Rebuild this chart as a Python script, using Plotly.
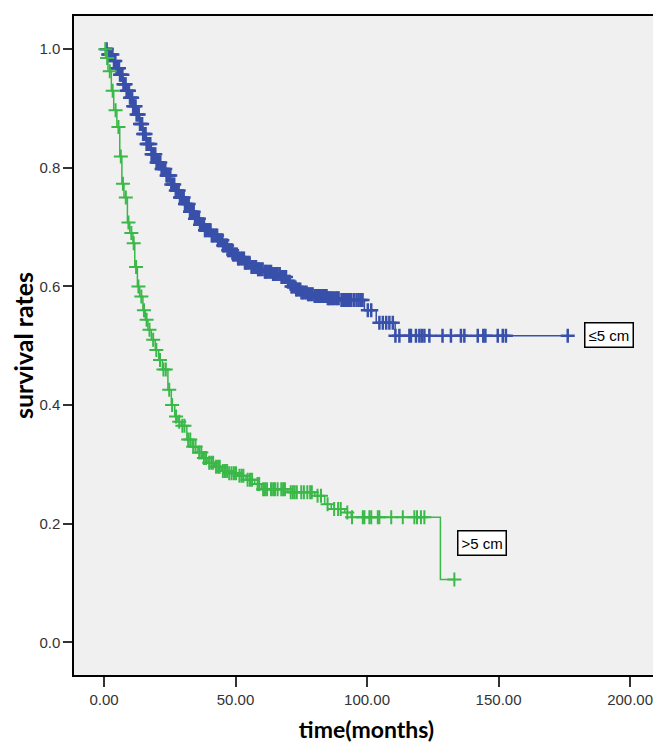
import numpy as np
import plotly.graph_objects as go

# ---- data (months, survival) ----
small_times = [0, 1.5, 3.4, 4.7, 6.0, 7.2, 8.5, 9.8, 11.0, 12.3, 13.6, 14.8, 16.1, 18.0, 19.9,
               21.8, 23.7, 25.3, 26.9, 28.8, 30.7, 32.6, 34.5, 36.4, 38.3, 40.8, 43.3, 45.2,
               47.1, 49.0, 50.9, 53.5, 56.0, 58.5, 61.1, 64.2, 67.4, 69.5, 71.2, 73.0, 75.0,
               77.5, 80.0, 85.0, 90.2, 99.0, 103.5, 110.7]
small_surv = [1.0, 0.991, 0.980, 0.968, 0.957, 0.941, 0.930, 0.918, 0.904, 0.890, 0.874, 0.857,
              0.840, 0.823, 0.809, 0.798, 0.787, 0.772, 0.762, 0.750, 0.739, 0.726, 0.714, 0.704,
              0.695, 0.686, 0.678, 0.669, 0.661, 0.654, 0.647, 0.640, 0.633, 0.629, 0.625, 0.621,
              0.616, 0.608, 0.600, 0.595, 0.590, 0.587, 0.584, 0.580, 0.577, 0.560, 0.539, 0.517]
small_end = 176.3
small_censor = [1.0, 1.6, 2.0, 2.6, 3.2, 3.8, 4.3, 4.8, 5.2, 5.7, 6.1, 6.5, 7.0, 7.4, 7.8, 8.2,
                8.6, 9.0, 9.5, 9.9, 10.3, 10.7, 11.1, 11.5, 12.0, 12.4, 12.8, 13.2, 13.7, 14.0,
                14.5, 14.9, 15.3, 15.8, 16.2, 16.5, 17.0, 17.6, 18.1, 18.5, 19.0, 19.5, 20.0, 20.3,
                20.9, 21.4, 21.9, 22.2, 22.8, 23.3, 23.8, 24.0, 24.4, 24.8, 25.2, 25.6, 26.2, 26.7,
                27.3, 27.9, 28.4, 28.9, 29.2, 29.8, 30.3, 30.8, 31.0, 31.6, 32.2, 32.7, 33.0, 33.6,
                34.1, 34.6, 35.0, 35.6, 36.1, 36.5, 36.9, 37.5, 38.0, 38.4, 38.8, 39.4, 40.0, 40.5,
                41.0, 41.3, 41.9, 42.5, 43.0, 43.4, 43.8, 44.4, 45.0, 45.3, 45.7, 46.3, 46.8, 47.2,
                47.6, 48.2, 48.7, 49.1, 49.4, 50.0, 50.5, 51.0, 51.3, 52.0, 52.6, 53.2, 53.6, 54.0,
                54.6, 55.3, 56.1, 56.5, 57.2, 57.8, 58.6, 58.9, 59.6, 60.3, 61.2, 61.5, 62.2, 62.9,
                63.5, 64.3, 64.6, 65.3, 66.0, 66.8, 67.5, 67.9, 68.6, 69.2, 70.0, 70.6, 71.3, 71.6,
                72.3, 73.1, 73.4, 74.1, 74.6, 75.1, 75.6, 76.3, 77.0, 77.6, 78.0, 78.7, 79.3, 80.1,
                80.5, 81.0, 81.6, 82.2, 82.8, 83.4, 84.0, 84.6, 85.1, 85.5, 86.1, 86.7, 87.3, 88.0,
                88.6, 89.2, 90.3, 90.8, 91.4, 92.0, 92.6, 93.2, 94.0, 95.0, 96.0, 96.8, 97.6, 98.3,
                100.3, 101.6, 104.7, 106.0, 107.3, 108.5, 109.8, 110.8, 112.3, 116.1, 116.7,
                118.6, 119.9, 120.8, 121.8, 123.7, 128.7, 131.9, 135.7, 137.0, 142.1, 144.2, 145.0,
                149.7, 151.6, 152.8, 176.3]

large_times = [0, 0.8, 1.5, 2.8, 3.7, 4.9, 6.0, 6.8, 7.6, 8.9, 9.8, 11.0, 11.7, 12.7, 13.6, 14.8,
               15.7, 16.7, 18.0, 19.5, 20.8, 22.2, 24.3, 25.6, 26.9, 28.1, 29.4, 31.5, 33.5, 35.7,
               37.5, 39.5, 42.0, 44.6, 47.5, 50.9, 54.0, 57.3, 59.8, 69.9, 80.1, 83.9, 86.4, 91.5,
               94.0, 127.9]
large_surv = [1.0, 0.985, 0.963, 0.930, 0.897, 0.869, 0.819, 0.773, 0.750, 0.708, 0.690, 0.673,
              0.633, 0.600, 0.583, 0.560, 0.544, 0.527, 0.510, 0.493, 0.476, 0.460, 0.426, 0.400,
              0.381, 0.372, 0.365, 0.342, 0.330, 0.320, 0.311, 0.303, 0.296, 0.289, 0.285, 0.281,
              0.274, 0.267, 0.258, 0.253, 0.247, 0.233, 0.225, 0.219, 0.211, 0.106]
large_end = 133.2
large_censor = [0.5, 1.2, 2.2, 3.3, 4.4, 5.5, 6.4, 7.2, 8.3, 9.3, 10.4, 11.3, 12.2, 13.1, 14.2,
                15.2, 16.2, 17.3, 18.7, 19.9, 21.3, 22.6, 23.5, 24.8, 25.9, 27.4, 28.6, 29.8, 30.6,
                32.0, 32.8, 33.9, 34.8, 36.2, 37.0, 38.0, 38.8, 40.0, 40.8, 41.5, 42.6, 43.4, 44.0,
                45.2, 46.0, 46.8, 47.6, 48.5, 49.4, 50.2, 51.5, 52.3, 53.0, 54.6, 55.5, 56.3, 58.4,
                59.0, 60.5, 61.2, 62.0, 63.5, 64.3, 65.0, 66.0, 67.4, 68.1, 68.8, 71.0, 71.8, 72.5,
                73.3, 75.0, 76.0, 77.3, 78.4, 79.0, 81.2, 82.5, 85.0, 87.5, 89.0, 90.0, 92.5, 94.3,
                98.4, 99.0, 100.9, 101.6, 104.1, 104.7, 109.2, 113.6, 118.0, 119.0, 120.5, 121.8,
                133.2]

labels = ["≤5 cm", ">5 cm"]
label_pos = [(182.4, 0.519), (134.1, 0.168)]
x_ticks = [0, 50, 100, 150, 200]
y_ticks = [0.0, 0.2, 0.4, 0.6, 0.8, 1.0]

BLUE = "rgb(56,80,170)"
GREEN = "rgb(58,184,72)"


def step_value(times, surv, t):
    idx = np.searchsorted(np.array(times), np.array(t), side="right") - 1
    return np.array(surv)[idx]


fig = go.Figure()
for times, surv, end, cens, col, name, mw in [
    (small_times, small_surv, small_end, small_censor, BLUE, labels[0], 2.5),
    (large_times, large_surv, large_end, large_censor, GREEN, labels[1], 2.0),
]:
    fig.add_trace(go.Scatter(
        x=list(times) + [end], y=list(surv) + [surv[-1]],
        mode="lines", line=dict(color=col, width=1.5, shape="hv"),
        name=name, showlegend=False, hoverinfo="skip"))
    fig.add_trace(go.Scatter(
        x=cens, y=step_value(times, surv, cens),
        mode="markers",
        marker=dict(symbol="cross-thin", size=10, line=dict(color=col, width=mw), color=col),
        showlegend=False, hoverinfo="skip"))

for txt, (lx, ly) in zip(labels, label_pos):
    fig.add_annotation(x=lx, y=ly, text=txt, showarrow=False, xanchor="left", yanchor="middle",
                       font=dict(family="Liberation Sans", size=15, color="black"),
                       bgcolor="white", bordercolor="black", borderwidth=1.5, borderpad=3)

fig.update_layout(
    width=661, height=747,
    margin=dict(l=66, r=10, t=6, b=80),
    paper_bgcolor="white", plot_bgcolor="#F0F0F0",
    font=dict(family="Liberation Sans", size=15, color="#333333"),
)
fig.update_xaxes(
    range=[-11.4, 211.0], tickvals=x_ticks, ticktext=[f"{v:.2f}" for v in x_ticks],
    ticks="outside", ticklen=10, tickwidth=1.5, tickcolor="#333333",
    showline=True, linecolor="black", linewidth=1.5, mirror=True,
    showgrid=False, zeroline=False,
    title=dict(text="<b>time(months)</b>", font=dict(family="Lato", size=23, color="black"), standoff=15),
)
fig.update_yaxes(
    range=[-0.055, 1.056], tickvals=y_ticks, ticktext=[f"{v:.1f}" for v in y_ticks],
    ticks="outside", ticklen=9, tickwidth=1.5, tickcolor="#333333",
    showline=True, linecolor="black", linewidth=1.5, mirror=True,
    showgrid=False, zeroline=False,
    title=dict(text="<b>survival rates</b>", font=dict(family="Lato", size=25, color="black"), standoff=3),
)

fig.write_html("out.html")
